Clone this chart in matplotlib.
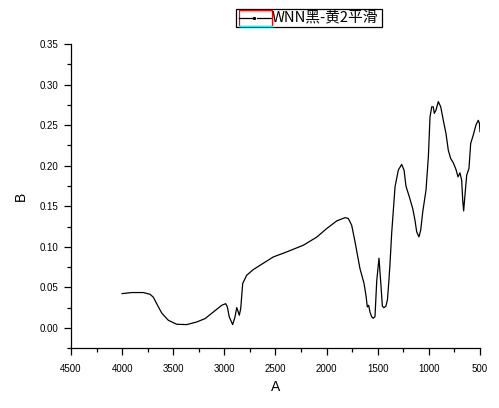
import numpy as np
import matplotlib
matplotlib.use("Agg")
import matplotlib.pyplot as plt
from matplotlib.patches import Rectangle
from matplotlib.lines import Line2D

plt.rcParams['font.family'] = ['Liberation Sans', 'DejaVu Sans']

# wavenumber (A) and absorbance (B)
wn = [4000, 3906, 3793, 3727, 3695, 3662, 3613, 3548, 3466, 3368,
      3271, 3189, 3108, 3026, 2987, 2971, 2952, 2919, 2896, 2879,
      2864, 2854, 2840, 2821, 2782, 2717, 2635, 2521, 2390, 2228,
      2097, 1999, 1901, 1820, 1788, 1755, 1722, 1674, 1634, 1615,
      1602, 1589, 1576, 1560, 1545, 1527, 1510, 1488, 1470, 1455,
      1440, 1420, 1405, 1390, 1380, 1364, 1331, 1299, 1266, 1243,
      1224, 1191, 1158, 1136, 1119, 1097, 1080, 1060, 1028, 1005,
      989, 972, 957, 947, 930, 908, 884, 859, 833, 810,
      787, 761, 735, 715, 696, 679, 669, 660, 647, 630,
      608, 591, 566, 540, 517, 505, 500]
absb = [.0424, .0437, .0437, .0416, .038, .030, .0185, .0095, .0046, .0042,
        .0074, .0116, .0197, .028, .030, .026, .0136, .0042, .0136, .0252,
        .0197, .0157, .024, .0548, .065, .072, .0786, .0876, .0938, .102,
        .112, .1226, .132, .136, .135, .1267, .106, .0733, .0548, .040,
        .026, .028, .0197, .014, .012, .014, .058, .086, .055, .027,
        .025, .027, .035, .06, .0794, .1165, .174, .1946, .2016, .1946,
        .1748, .1616, .1473, .1329, .1184, .1123, .1205, .1431, .170, .211,
        .260, .2726, .2726, .2645, .2686, .279, .2726, .256, .240, .219,
        .209, .2036, .1954, .1863, .1912, .182, .1575, .1443, .1637, .1884,
        .1966, .2275, .2377, .250, .256, .252, .242]
series_name = 'WNN黑-黄2平滑'
xticks = [4500, 4000, 3500, 3000, 2500, 2000, 1500, 1000, 500]
yticks = [0.00, 0.05, 0.10, 0.15, 0.20, 0.25, 0.30, 0.35]

W, H = 499, 408
fig = plt.figure(figsize=(W / 100, H / 100), dpi=100)
ax = fig.add_axes([71 / W, 1 - 348.3 / H, 409 / W, 304.3 / H])

ax.plot(wn, absb, color='black', lw=0.9)

ax.set_xlim(4500, 500)
ax.set_ylim(-0.025, 0.35)
ax.set_xticks(xticks)
ax.set_xticklabels([str(v) for v in xticks])
ax.set_yticks(yticks)
ax.set_yticklabels(['%.2f' % v for v in yticks])
ax.set_xticks(np.arange(4250, 500, -500), minor=True)
ax.set_yticks([-0.025, 0.025, 0.075, 0.125, 0.175, 0.225, 0.275, 0.325], minor=True)

for s in ['top', 'right']:
    ax.spines[s].set_visible(False)
for s in ['left', 'bottom']:
    ax.spines[s].set_linewidth(0.9)
ax.tick_params(which='major', direction='out', length=5, width=0.9, labelsize=7, pad=4)
ax.tick_params(which='minor', direction='out', length=3, width=0.9)
ax.tick_params(axis='x', which='major', pad=6)

ax.set_xlabel('A', fontsize=10)
ax.set_ylabel('B', fontsize=10)
ax.xaxis.set_label_coords(0.5, -0.105)
ax.yaxis.set_label_coords(-0.105, 0.5)

# legend box drawn like the Origin one (pixel positions)
def fx(p):
    return p / W

def fy(p):
    return 1 - p / H

fig.add_artist(Rectangle((fx(236), fy(27)), fx(146), 18 / H, transform=fig.transFigure,
                         fill=False, edgecolor='black', lw=0.9))
fig.add_artist(Rectangle((fx(239), fy(25.7)), fx(33), 15.7 / H, transform=fig.transFigure,
                         fill=False, edgecolor='red', lw=0.9))
fig.add_artist(Line2D([fx(239), fx(272)], [fy(25.7), fy(25.7)], transform=fig.transFigure,
                      color='cyan', lw=1))
fig.add_artist(Line2D([fx(239), fx(251.5)], [fy(18), fy(18)], transform=fig.transFigure,
                      color='black', lw=0.9))
fig.add_artist(Line2D([fx(256.5), fx(271)], [fy(18), fy(18)], transform=fig.transFigure,
                      color='black', lw=0.9))
fig.add_artist(Line2D([fx(254)], [fy(18)], transform=fig.transFigure,
                      color='black', marker='s', ms=1.2, lw=0))
fig.text(fx(272), fy(17.5), series_name, fontsize=10.6, va='center', ha='left',
         family=['Noto Sans CJK SC', 'DejaVu Sans'])

fig.savefig('out.png', dpi=100)
